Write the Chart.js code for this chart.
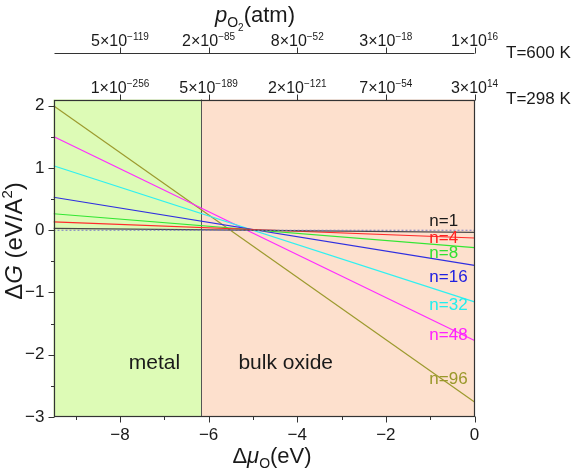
<!DOCTYPE html>
<html><head><meta charset="utf-8">
<script src="https://cdn.jsdelivr.net/npm/chart.js@4/dist/chart.umd.min.js"></script>
<style>html,body{margin:0;padding:0;background:#fff;}#wrap{width:574px;height:469px;position:relative;}</style>
</head><body>
<div id="wrap"><canvas id="c" width="574" height="469"></canvas></div>
<script>
// ---- data ----
const muRange = [-9.5, 0];
const dGRange = [-3, 2.1];
const xTicks = [-9, -8, -7, -6, -5, -4, -3, -2, -1, 0];
const xLabelTicks = [-8, -6, -4, -2, 0];
const yTicks = [-3, -2.5, -2, -1.5, -1, -0.5, 0, 0.5, 1, 1.5, 2];
const topTicks = [-8, -6, -4, -2, 0];
const pO2_600K = ['5×10^−119', '2×10^−85', '8×10^−52', '3×10^−18', '1×10^16'];
const pO2_298K = ['1×10^−256', '5×10^−189', '2×10^−121', '7×10^−54', '3×10^14'];
const phaseBoundary = -6.18;
const phaseNames = ['metal', 'bulk oxide'];
const seriesNames = ['n=1', 'n=4', 'n=8', 'n=16', 'n=32', 'n=48', 'n=96'];
const muEnds = [-9.5, 0];
const dG_n1 = [0.03, -0.035];
const dG_n4 = [0.135, -0.125];
const dG_n8 = [0.265, -0.28];
const dG_n16 = [0.53, -0.565];
const dG_n32 = [1.035, -1.15];
const dG_n48 = [1.505, -1.77];
const dG_n96 = [2.0, -2.76];
const dG_ref = [0, 0];

// ---- styling / placement ----
const seriesColors = ['#4a4a4a', '#ff2b2b', '#33e633', '#2f2fe0', '#2ff0f0', '#ff2bff', '#9c9a2e'];
const labelColors = ['#1a1a1a', '#ff2020', '#30e030', '#2020e0', '#20eeee', '#ff20ff', '#9a982a'];
const labelMu = -1.02;
const labelDG = [0.14, -0.125, -0.367, -0.75, -1.2, -1.69, -2.4];
const phaseLabelMu = [-7.22, -4.26];
const phaseLabelDG = -2.13;
const FONT = '"Liberation Sans", Arial, sans-serif';

const allSeries = [dG_n1, dG_n4, dG_n8, dG_n16, dG_n32, dG_n48, dG_n96];
const datasets = [{
  label: 'ref', data: muEnds.map((m, i) => ({x: m, y: dG_ref[i]})),
  borderColor: '#7a7ac8', borderWidth: 1.2, borderDash: [2, 2], pointRadius: 0, fill: false
}];
allSeries.forEach((s, k) => datasets.push({
  label: seriesNames[k], data: muEnds.map((m, i) => ({x: m, y: s[i]})),
  borderColor: seriesColors[k], borderWidth: 1.2, pointRadius: 0, fill: false, tension: 0
}));

function runsWidth(ctx, runs) {
  let w = 0;
  runs.forEach(r => { ctx.font = r.font; w += ctx.measureText(r.t).width; });
  return w;
}
function drawRuns(ctx, runs, cx, by) {
  let x = cx - runsWidth(ctx, runs) / 2;
  runs.forEach(r => {
    ctx.font = r.font; ctx.fillText(r.t, x, by + (r.dy || 0));
    x += ctx.measureText(r.t).width;
  });
}
function sciRuns(lbl) {
  const [m, e] = lbl.split('^');
  return [{t: m, font: '16px ' + FONT}, {t: e, font: '10px ' + FONT, dy: -6.5}];
}

const decor = {
  id: 'decor',
  beforeDatasetsDraw(chart) {
    const {ctx, chartArea: a, scales: {x}} = chart;
    const xb = Math.round(x.getPixelForValue(phaseBoundary));
    ctx.save();
    ctx.fillStyle = '#ddfbb6';
    ctx.fillRect(a.left, a.top, xb - a.left, a.bottom - a.top);
    ctx.fillStyle = '#fde0cd';
    ctx.fillRect(xb, a.top, a.right - xb, a.bottom - a.top);
    ctx.strokeStyle = '#555'; ctx.lineWidth = 1;
    ctx.beginPath(); ctx.moveTo(xb + 0.5, a.top); ctx.lineTo(xb + 0.5, a.bottom); ctx.stroke();
    ctx.restore();
  },
  afterDatasetsDraw(chart) {
    const {ctx, chartArea: a, scales: {x, y, x3}} = chart;
    ctx.save();
    const L = Math.round(a.left) + 0.5, R = Math.round(a.right) - 0.5;
    const T = Math.round(a.top) + 0.5, B = Math.round(a.bottom) - 0.5;
    ctx.strokeStyle = '#333'; ctx.lineWidth = 1.2;
    ctx.strokeRect(L, T, R - L, B - T);
    ctx.lineWidth = 1;
    ctx.beginPath();
    xTicks.forEach(v => {
      const p = Math.round(x.getPixelForValue(v)) + 0.5;
      const len = xLabelTicks.includes(v) ? 6 : 3.5;
      ctx.moveTo(p, B); ctx.lineTo(p, B + len);
    });
    yTicks.forEach(v => {
      const p = Math.round(y.getPixelForValue(v)) + 0.5;
      const len = Number.isInteger(v) ? 6 : 3.5;
      ctx.moveTo(L, p); ctx.lineTo(L - len, p);
    });
    const T3 = Math.round(x3.bottom) - 0.5;
    ctx.moveTo(L, T3); ctx.lineTo(R, T3);
    topTicks.forEach(v => {
      const p = Math.round(x.getPixelForValue(v)) + 0.5;
      ctx.moveTo(p, T); ctx.lineTo(p, T - 6);
      ctx.moveTo(p, T3); ctx.lineTo(p, T3 - 6);
    });
    ctx.stroke();

    // top tick labels
    ctx.fillStyle = '#1a1a1a'; ctx.textBaseline = 'alphabetic'; ctx.textAlign = 'left';
    topTicks.forEach((v, i) => {
      const p = x.getPixelForValue(v);
      drawRuns(ctx, sciRuns(pO2_600K[i]), p, T3 - 7.5);
      drawRuns(ctx, sciRuns(pO2_298K[i]), p, T - 7.5);
    });
    ctx.font = '17px ' + FONT;
    ctx.fillText('T=600 K', 506, 58);
    ctx.fillText('T=298 K', 506, 103.5);

    // axis titles
    drawRuns(ctx, [
      {t: 'p', font: 'italic 22px ' + FONT},
      {t: 'O', font: '14px ' + FONT, dy: 5},
      {t: '2', font: '10px ' + FONT, dy: 9},
      {t: '(atm)', font: '22px ' + FONT}], 255, 22);
    drawRuns(ctx, [
      {t: 'Δ', font: '22px ' + FONT},
      {t: 'μ', font: 'italic 22px ' + FONT},
      {t: 'O', font: '14px ' + FONT, dy: 5},
      {t: '(eV)', font: '22px ' + FONT}], 272, 463);
    ctx.save();
    ctx.translate(22, 241); ctx.rotate(-Math.PI / 2);
    drawRuns(ctx, [
      {t: 'Δ', font: '24px ' + FONT},
      {t: 'G', font: 'italic 24px ' + FONT},
      {t: ' (eV/A', font: '24px ' + FONT},
      {t: '2', font: '15px ' + FONT, dy: -10},
      {t: ')', font: '24px ' + FONT}], 0, 0);
    ctx.restore();

    // series labels
    ctx.textBaseline = 'middle'; ctx.textAlign = 'left';
    ctx.font = '17px ' + FONT;
    seriesNames.forEach((n, i) => {
      ctx.fillStyle = labelColors[i];
      ctx.fillText(n, x.getPixelForValue(labelMu), y.getPixelForValue(labelDG[i]));
    });
    // phase labels
    ctx.fillStyle = '#1a1a1a'; ctx.textAlign = 'center'; ctx.font = '21px ' + FONT;
    phaseNames.forEach((n, i) => {
      ctx.fillText(n, x.getPixelForValue(phaseLabelMu[i]), y.getPixelForValue(phaseLabelDG));
    });
    ctx.restore();
  }
};

const minus = v => (v < 0 ? '−' + Math.abs(v) : String(v));
new Chart(document.getElementById('c'), {
  type: 'line',
  data: {datasets},
  options: {
    responsive: false, animation: false,
    layout: {padding: {top: 0, right: 99.5, bottom: 0, left: 0}},
    plugins: {legend: {display: false}, tooltip: {enabled: false}},
    scales: {
      x: {
        type: 'linear', position: 'bottom', min: muRange[0], max: muRange[1],
        afterBuildTicks: s => { s.ticks = xTicks.map(v => ({value: v})); },
        afterFit: s => { s.height = 52; },
        grid: {display: false, drawTicks: false}, border: {display: false},
        ticks: {padding: 8, color: '#1a1a1a', font: {family: FONT, size: 17}, maxRotation: 0, autoSkip: false,
          callback: v => (xLabelTicks.includes(v) ? minus(v) : '')}
      },
      y: {
        type: 'linear', position: 'left', min: dGRange[0], max: dGRange[1],
        afterBuildTicks: s => { s.ticks = yTicks.map(v => ({value: v})); },
        afterFit: s => { s.width = 53.5; },
        grid: {display: false, drawTicks: false}, border: {display: false},
        ticks: {padding: 9, color: '#1a1a1a', font: {family: FONT, size: 17}, autoSkip: false,
          callback: v => (Number.isInteger(v) ? minus(v) : '')}
      },
      x2: {
        type: 'linear', position: 'top', min: muRange[0], max: muRange[1], weight: 0,
        afterBuildTicks: s => { s.ticks = topTicks.map(v => ({value: v})); },
        afterFit: s => { s.height = 45.2; },
        grid: {display: false, drawTicks: false}, border: {display: false}, ticks: {display: false}
      },
      x3: {
        type: 'linear', position: 'top', min: muRange[0], max: muRange[1], weight: 1,
        afterBuildTicks: s => { s.ticks = topTicks.map(v => ({value: v})); },
        afterFit: s => { s.height = 54.3; },
        grid: {display: false, drawTicks: false}, border: {display: false}, ticks: {display: false}
      }
    }
  },
  plugins: [decor]
});
</script>
</body></html>
